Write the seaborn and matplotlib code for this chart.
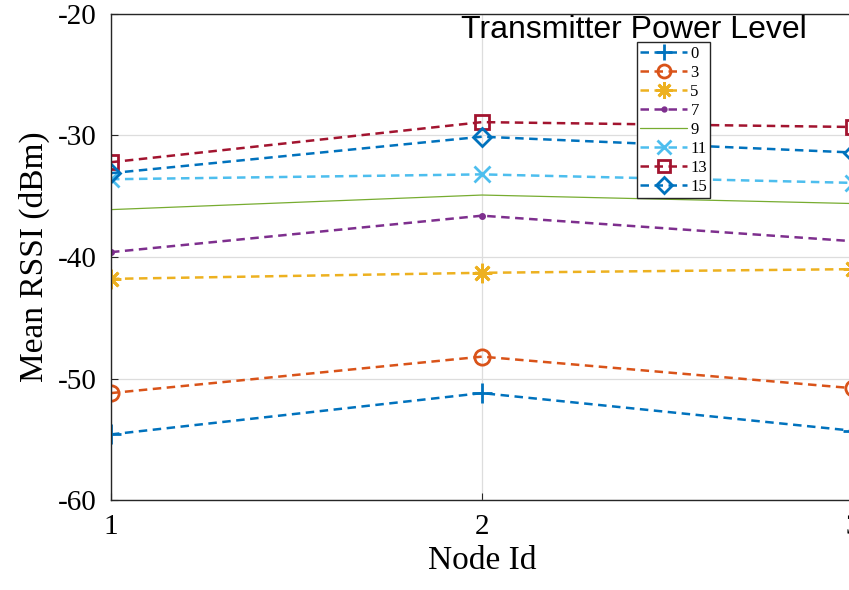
import matplotlib
matplotlib.use("Agg")
import matplotlib.pyplot as plt
import seaborn as sns
import pandas as pd

node_ids = [1, 2, 3]
power_levels = ["0", "3", "5", "7", "9", "11", "13", "15"]
rssi_0 = [-54.6, -51.2, -54.3]
rssi_3 = [-51.2, -48.2, -50.8]
rssi_5 = [-41.8, -41.3, -41.0]
rssi_7 = [-39.6, -36.6, -38.7]
rssi_9 = [-36.1, -34.9, -35.6]
rssi_11 = [-33.6, -33.2, -33.9]
rssi_13 = [-32.2, -28.9, -29.3]
rssi_15 = [-33.1, -30.1, -31.4]

series = [rssi_0, rssi_3, rssi_5, rssi_7, rssi_9, rssi_11, rssi_13, rssi_15]
colors = ["#0072BD", "#D95319", "#EDB120", "#7E2F8E", "#77AC30", "#4DBEEE", "#A2142F", "#0072BD"]
# asterisk marker like matlab's '*'
markers = ["+", "o", (8, 2, 0), ".", None, "x", "s", "D"]
msizes = [14, 11, 14, 6, 0, 12, 10, 9]

sns.set_style("whitegrid")
plt.rcParams["font.family"] = ["Liberation Serif", "DejaVu Serif"]
plt.rcParams.update({"text.color": "black", "axes.labelcolor": "black",
                     "xtick.color": "black", "ytick.color": "black"})

fig = plt.figure(figsize=(8.49, 5.9), dpi=100)
ax = fig.add_axes([0.1307, 0.1525, 0.874, 0.8238])

for level, vals, col, mk, ms in zip(power_levels, series, colors, markers, msizes):
    df = pd.DataFrame({"node": node_ids, "rssi": vals})
    solid = level == "9"
    sns.lineplot(data=df, x="node", y="rssi", ax=ax, color=col, label=level,
                 marker=mk, markersize=ms,
                 markerfacecolor="none" if mk != "." else col,
                 markeredgecolor=col, markeredgewidth=2,
                 linestyle="-" if solid else (0, (3.4, 2.2)),
                 linewidth=0.9 if solid else 1.8)

ax.set_xlim(1, 3)
ax.set_ylim(-60, -20)
ax.set_xticks([1, 2, 3])
ax.set_yticks([-60, -50, -40, -30, -20])
ax.set_yticklabels(["-60", "-50", "-40", "-30", "-20"])
ax.set_xlabel("Node Id", fontsize=24, labelpad=4)
ax.set_ylabel("Mean RSSI (dBm)", fontsize=24, labelpad=6)
ax.tick_params(axis="both", labelsize=21, direction="in", length=5, color="#262626",
               left=True, bottom=True, pad=10)
ax.grid(True, color="#dddddd", linewidth=0.9)
for sp in ax.spines.values():
    sp.set_color("#262626")
    sp.set_linewidth(1.0)

leg = ax.legend(loc="upper left", bbox_to_anchor=(0.709, 0.942), fontsize=12,
                frameon=True, fancybox=False, edgecolor="#262626",
                handlelength=2.8, borderpad=0.2, labelspacing=0.18,
                handletextpad=0.2, borderaxespad=0, markerscale=0.85)
leg.get_frame().set_linewidth(1.0)
leg.get_frame().set_facecolor("white")
leg.get_frame().set_alpha(1)

fig.text(0.7468, 0.949, "Transmitter Power Level", fontsize=23, ha="center", va="center",
         family=["Liberation Sans", "DejaVu Sans"])

fig.savefig("out.png", dpi=100)
